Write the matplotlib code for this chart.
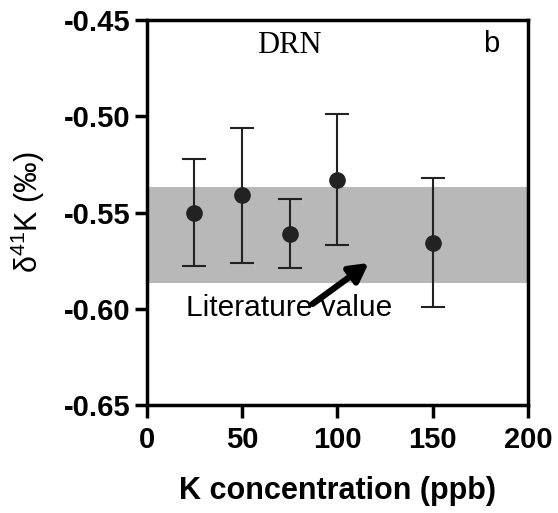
import matplotlib
matplotlib.use("Agg")
import matplotlib.pyplot as plt

plt.rcParams['font.family'] = ['Liberation Sans', 'DejaVu Sans']
plt.rcParams['mathtext.fontset'] = 'custom'
plt.rcParams['mathtext.rm'] = 'Liberation Sans'
plt.rcParams['mathtext.it'] = 'Liberation Sans:italic'

# data
conc = [25, 50, 75, 100, 150]
delta = [-0.550, -0.541, -0.561, -0.533, -0.566]
err_low = [0.028, 0.035, 0.018, 0.034, 0.033]
err_high = [0.028, 0.035, 0.018, 0.034, 0.034]
lit_band = [-0.5865, -0.537]

fig = plt.figure(figsize=(5.58, 5.13), dpi=100)
ax = fig.add_axes([0.263, 0.2105, 0.683, 0.7505])

ax.axhspan(lit_band[0], lit_band[1], color='#b8b8b8', lw=0, zorder=0)
ax.errorbar(conc, delta, yerr=[err_low, err_high], fmt='o', color='#222222',
            ms=11, elinewidth=1.5, capsize=8.5, capthick=1.5, zorder=3)

ax.annotate('', xy=(116.5, -0.5762), xytext=(87, -0.5975),
            arrowprops=dict(arrowstyle='-|>,head_length=1.1,head_width=0.6',
                            color='black', lw=4.5, shrinkA=0, shrinkB=0))
ax.text(20.5, -0.5995, 'Literature value', fontsize=21.5, va='center', ha='left')
ax.text(75, -0.4635, 'DRN', fontsize=22, family='Liberation Serif',
        ha='center', va='center')
ax.text(181, -0.4625, 'b', fontsize=21, ha='center', va='center')

ax.set_xlim(0, 200)
ax.set_ylim(-0.65, -0.45)
ax.set_xticks([0, 50, 100, 150, 200])
ax.set_yticks([-0.65, -0.60, -0.55, -0.50, -0.45])
ax.set_yticklabels(['-0.65', '-0.60', '-0.55', '-0.50', '-0.45'])
ax.tick_params(width=2.5, length=9, labelsize=21, pad=3)
ax.tick_params(axis='x', pad=6)
for lab in ax.get_xticklabels() + ax.get_yticklabels():
    lab.set_fontweight('bold')
for sp in ax.spines.values():
    sp.set_linewidth(2.5)

ax.set_xlabel('K concentration (ppb)', fontsize=22, fontweight='bold', labelpad=16)
ax.set_ylabel('δ$^{\\mathregular{41}}$K (‰)', fontsize=22, labelpad=12)

fig.savefig('out.png', dpi=100)
